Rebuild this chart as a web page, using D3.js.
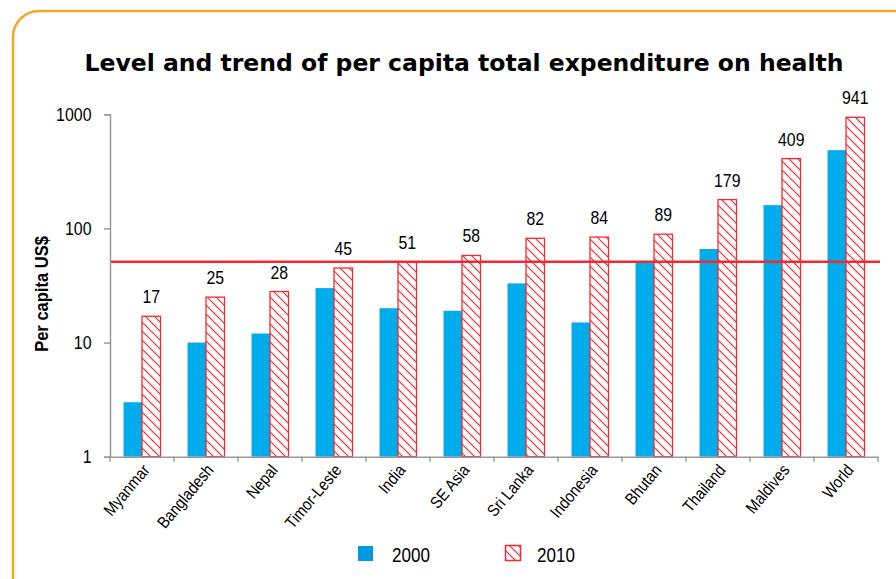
<!DOCTYPE html>
<html><head><meta charset="utf-8">
<script src="https://cdn.jsdelivr.net/npm/d3@7"></script>
<style>body{margin:0;background:#fff;}svg{display:block;}</style>
</head><body>
<svg id="c" width="896" height="579"></svg>
<script>
const categories = ["Myanmar","Bangladesh","Nepal","Timor-Leste","India","SE Asia","Sri Lanka","Indonesia","Bhutan","Thailand","Maldives","World"];
const values2000 = [3, 10, 12, 30, 20, 19, 33, 15, 50, 66, 160, 485];
const values2010 = [17, 25, 28, 45, 51, 58, 82, 84, 89, 179, 409, 941];
const referenceLine = 51;
const yTicks = [1, 10, 100, 1000];
const seriesNames = ["2000", "2010"];

(function(){
const svg = d3.select("#c");
const sans = "'Liberation Sans',Arial,sans-serif";
const SX = 0.87;
const blue = "#00ADEA", red = "#EE2B33";

svg.append("rect").attr("x",13).attr("y",11).attr("width",920).attr("height",620)
  .attr("rx",26).attr("fill","none").attr("stroke","#F6A623").attr("stroke-width",2.5);

const defs = svg.append("defs");
const P = 9;
const pat = defs.append("pattern").attr("id","hatch").attr("patternUnits","userSpaceOnUse")
  .attr("width",P).attr("height",P);
pat.append("rect").attr("width",P).attr("height",P).attr("fill","#fff");
pat.append("path").attr("d",`M-2,-2 L${P+2},${P+2} M-2,${P-2} L2,${P+2} M${P-2},-2 L${P+2},2`)
  .attr("stroke",red).attr("stroke-width",1.2);

svg.append("text").attr("x",464).attr("y",70.5).attr("text-anchor","middle")
  .attr("font-family","'DejaVu Sans',Verdana,sans-serif").attr("font-weight","bold")
  .attr("font-size",23.5).text("Level and trend of per capita total expenditure on health");

const pLeft = 110, pRight = 878, pTop = 114.3, pBottom = 456.7;
const x = d3.scaleBand().domain(categories).range([pLeft,pRight]);
const y = d3.scaleLog().domain([1,1000]).range([pBottom,pTop]);
const bw = 18.5;

const g = svg.append("g");
g.selectAll(".b0").data(categories).join("rect")
  .attr("x", d => x(d)+x.bandwidth()/2-bw)
  .attr("y", (d,i) => y(values2000[i]))
  .attr("width", bw).attr("height", (d,i) => pBottom - y(values2000[i]))
  .attr("fill", blue);
g.selectAll(".b1").data(categories).join("rect")
  .attr("x", d => x(d)+x.bandwidth()/2)
  .attr("y", (d,i) => y(values2010[i]))
  .attr("width", bw).attr("height", (d,i) => pBottom - y(values2010[i]))
  .attr("fill","url(#hatch)").attr("stroke",red).attr("stroke-width",1.3);
g.selectAll(".lbl").data(categories).join("text")
  .attr("transform", (d,i) => `translate(${x(d)+x.bandwidth()/2+bw/2},${y(values2010[i])-13}) scale(${SX},1)`)
  .attr("text-anchor","middle").attr("font-family",sans).attr("font-size",18.2)
  .text((d,i) => values2010[i]);

svg.append("line").attr("x1",pLeft).attr("x2",880)
  .attr("y1",y(referenceLine)).attr("y2",y(referenceLine))
  .attr("stroke","#EE2B33").attr("stroke-width",2.5);

const ya = svg.append("g").attr("transform",`translate(${pLeft},0)`)
  .call(d3.axisLeft(y).tickValues(yTicks).tickFormat(d3.format("d")).tickSize(6).tickPadding(10));
ya.select(".domain").attr("stroke","#999").attr("stroke-width",1.5);
ya.selectAll(".tick line").attr("stroke","#999").attr("stroke-width",1.5);
ya.selectAll("text").attr("x",0).attr("transform",`translate(-18.5,0) scale(${SX},1)`)
  .attr("font-family",sans).attr("font-size",18.3).attr("fill","#000");

const xa = svg.append("g").attr("transform",`translate(0,${pBottom})`)
  .call(d3.axisBottom(x).tickSize(0).tickFormat(""));
xa.select(".domain").attr("stroke","#999").attr("stroke-width",1.5);
svg.append("g").selectAll("line").data(d3.range(categories.length+1)).join("line")
  .attr("x1", i => pLeft + i*x.step()).attr("x2", i => pLeft + i*x.step())
  .attr("y1", pBottom).attr("y2", pBottom+5).attr("stroke","#999").attr("stroke-width",1.5);
svg.append("g").selectAll("text").data(categories).join("text")
  .attr("transform", d => `translate(${x(d)+x.bandwidth()/2+4},${pBottom+10}) rotate(-50) scale(${SX},1)`)
  .attr("text-anchor","end").attr("dy","0.35em")
  .attr("font-family",sans).attr("font-size",16.8).text(d => d);

svg.append("text").attr("transform",`translate(48,294) rotate(-90) scale(${SX},1)`)
  .attr("text-anchor","middle").attr("font-family",sans).attr("font-weight","bold")
  .attr("font-size",19).text("Per capita US$");

const lg = svg.append("g");
lg.append("rect").attr("x",358).attr("y",546).attr("width",15).attr("height",15).attr("fill","#0099DD");
lg.append("text").attr("transform",`translate(392,561.7) scale(${SX},1)`).attr("font-family",sans).attr("font-size",19.6).text(seriesNames[0]);
lg.append("rect").attr("x",505.5).attr("y",545.5).attr("width",15).attr("height",15)
  .attr("fill","url(#hatch)").attr("stroke",red).attr("stroke-width",1.5);
lg.append("text").attr("transform",`translate(537,561.7) scale(${SX},1)`).attr("font-family",sans).attr("font-size",19.6).text(seriesNames[1]);
})();
</script>
</body></html>
